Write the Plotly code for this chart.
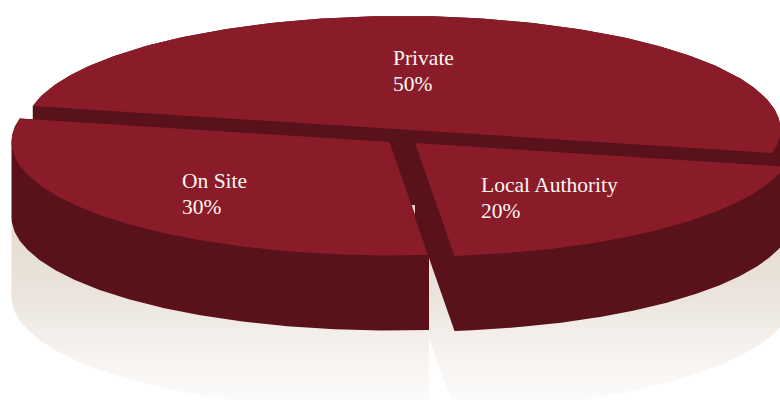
import numpy as np
import plotly.graph_objects as go

# ---- chart data ----
categories = ["Private", "Local Authority", "On Site"]
shares = [50, 20, 30]
percent_labels = ["50%", "20%", "30%"]

# ---- projection of the exploded 3D pie ----
RX, RY = 378.0, 113.5
DEPTH = 75.0
REFLECT = 155.0
START_DEG = 168.0          # Private starts here and the slices run clockwise
APEX = {"Private": (402.5, 129.5), "Local Authority": (415.0, 143.0), "On Site": (389.5, 142.0)}
DRAW_ORDER = ["Private", "On Site", "Local Authority"]
LABEL_POS = {"Private": (391.0, 58.0, 84.0), "Local Authority": (479.0, 185.0, 210.5), "On Site": (180.0, 181.0, 207.0)}

TOP = "#8a1c2a"
WALL = "#59111a"
REFLECT_SCALE = [[0.0, "#e5dbd0"], [0.417, "#ece5de"], [0.59, "#f3eeea"], [1.0, "#fdfcfb"]]


def sector(name):
    i = categories.index(name)
    t0 = START_DEG - 360.0 * sum(shares[:i]) / sum(shares)
    t1 = t0 - 360.0 * shares[i] / sum(shares)
    t = np.radians(np.linspace(t0, t1, 160))
    cx, cy = APEX[name]
    xs = np.r_[cx, cx + RX * np.cos(t)]
    ys = np.r_[cy, cy - RY * np.sin(t)]
    return xs, ys


def hull(xs, ys):
    pts = sorted(set(zip(np.round(xs, 2).tolist(), np.round(ys, 2).tolist())))

    def half(seq):
        out = []
        for p in seq:
            while len(out) > 1 and (out[-1][0] - out[-2][0]) * (p[1] - out[-2][1]) - (out[-1][1] - out[-2][1]) * (p[0] - out[-2][0]) <= 0:
                out.pop()
            out.append(p)
        return out[:-1]

    ring = half(pts) + half(pts[::-1])
    ring.append(ring[0])
    return [p[0] for p in ring], [p[1] for p in ring]


def prism(name, d0, d1):
    xs, ys = sector(name)
    return hull(np.r_[xs, xs], np.r_[ys + d0, ys + d1])


def poly(x, y, **fill):
    return go.Scatter(x=x, y=y, mode="lines", fill="toself", line=dict(width=0),
                      hoverinfo="skip", showlegend=False, **fill)


fig = go.Figure()

for name in DRAW_ORDER:
    x, y = prism(name, DEPTH, REFLECT)
    fig.add_trace(poly(x, y, fillgradient=dict(type="vertical", colorscale=REFLECT_SCALE, start=225, stop=405)))

for name in DRAW_ORDER:
    x, y = prism(name, 0, DEPTH)
    fig.add_trace(poly(x, y, fillcolor=WALL))
    xs, ys = sector(name)
    x, y = hull(xs, ys)
    fig.add_trace(poly(x, y, fillcolor=TOP))

for name, pct in zip(categories, percent_labels):
    lx, ly0, ly1 = LABEL_POS[name]
    for text, ly in ((name, ly0), (pct, ly1)):
        fig.add_annotation(x=lx, y=ly, text=text, showarrow=False, xanchor="left",
                           yanchor="middle", align="left",
                           font=dict(family="Liberation Serif", size=21.5, color="#fbf6f2"))

fig.update_xaxes(range=[0, 780], visible=False, fixedrange=True)
fig.update_yaxes(range=[400, 0], visible=False, fixedrange=True)
fig.update_layout(width=780, height=400, margin=dict(l=0, r=0, t=0, b=0),
                  paper_bgcolor="white", plot_bgcolor="white")

fig.write_html("out.html", config={"displayModeBar": False},
               post_script="document.body.style.margin='0';document.body.style.overflow='hidden';")
